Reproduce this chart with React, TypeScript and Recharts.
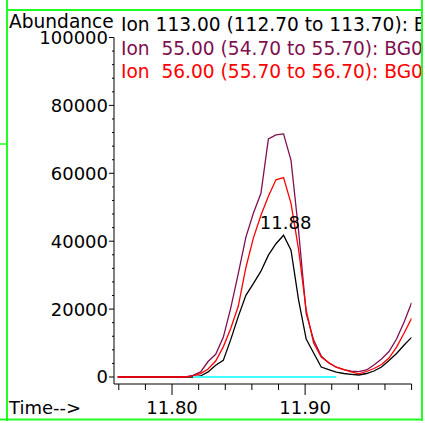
import React from 'react';
import { ComposedChart, Line, XAxis, YAxis, LabelList } from 'recharts';

const times = [
  11.7592, 11.7649, 11.7705, 11.7762, 11.7818, 11.7875, 11.7932, 11.7988, 11.8045, 11.8102,
  11.8158, 11.8215, 11.8271, 11.8328, 11.8385, 11.8441, 11.8498, 11.8555, 11.8611, 11.8668,
  11.8724, 11.8781, 11.8838, 11.8894, 11.8951, 11.9008, 11.9064, 11.9121, 11.9177, 11.9234,
  11.9291, 11.9347, 11.9404, 11.9461, 11.9517, 11.9574, 11.9630, 11.9687, 11.9744, 11.9800,
];

const ion113 = [
  0, 0, 0, 0, 0, 0, 0, 0, 0, 0,
  0, 300, 1500, 3440, 4900, 11000, 17850, 24060, 27500, 31170,
  35880, 39260, 41760, 37350, 22650, 11180, 7060, 2940, 2180, 1410,
  1030, 800, 590, 1030, 1760, 2940, 4850, 6910, 9410, 11680,
];

const ion55 = [
  0, 0, 0, 0, 0, 0, 0, 0, 0, 0,
  500, 1500, 4560, 6680, 11680, 20290, 30500, 41200, 48230, 54100,
  70140, 71320, 71610, 63820, 43000, 18730, 10880, 6180, 4120, 2880,
  2200, 1760, 1560, 2060, 3530, 5290, 7500, 11180, 16180, 21850,
];

const ion56 = [
  0, 0, 0, 0, 0, 0, 0, 0, 0, 0,
  300, 1000, 2350, 4700, 8880, 14300, 20900, 32260, 40900, 47640,
  53230, 58080, 58730, 51170, 37500, 19700, 10000, 5880, 4260, 2880,
  2200, 1530, 940, 1620, 2500, 3680, 5590, 8820, 12940, 17260,
];

const baseline = [
  null, null, null, null, null, null, null, null, null, null,
  0, 0, 0, 0, 0, 0, 0, 0, 0, 0,
  0, 0, 0, 0, 0, 0, 0, 0, 0, 0,
  null, null, null, null, null, null, null, null, null, null,
];

const xTicks = [11.76, 11.78, 11.8, 11.82, 11.84, 11.86, 11.88, 11.9, 11.92, 11.94, 11.96, 11.98];
const xLabels = [11.8, 11.9];
const yTicks = [
  0, 4000, 8000, 12000, 16000, 20000, 24000, 28000, 32000, 36000, 40000, 44000, 48000, 52000,
  56000, 60000, 64000, 68000, 72000, 76000, 80000, 84000, 88000, 92000, 96000, 100000,
];
const yLabels = [0, 20000, 40000, 60000, 80000, 100000];

const legendLines = [
  { text: 'Ion 113.00 (112.70 to 113.70): BG0', color: '#000000' },
  { text: 'Ion  55.00 (54.70 to 55.70): BG0', color: '#7f1050' },
  { text: 'Ion  56.00 (55.70 to 56.70): BG0', color: '#ff0000' },
];

const FONT = '"DejaVu Sans", sans-serif';
const GREEN = '#22ff22';

const data = times.map((t, i) => ({
  t,
  ion113: ion113[i],
  ion55: ion55[i],
  ion56: ion56[i],
  base: baseline[i],
}));

const apexIndex = ion113.indexOf(Math.max(...ion113));

const isIn = (arr: number[], v: number) => arr.some((a) => Math.abs(a - v) < 1e-6);

const XTick = (props: any) => {
  const { x, y, payload } = props;
  const major = isIn(xLabels, payload.value);
  return (
    <g>
      <line x1={x} x2={x} y1={y} y2={y + (major ? 11 : 6)} stroke="#000" strokeWidth={1} />
      {major && (
        <text x={x} y={y + 30} textAnchor="middle" fontFamily={FONT} fontSize={18} fill="#000">
          {Number(payload.value).toFixed(2)}
        </text>
      )}
    </g>
  );
};

const YTick = (props: any) => {
  const { x, y, payload } = props;
  const major = isIn(yLabels, payload.value);
  return (
    <g>
      <line x1={x - (major ? 5 : 2)} x2={x} y1={y} y2={y} stroke="#000" strokeWidth={1} />
      {major && (
        <text x={x - 6} y={y + 6.5} textAnchor="end" fontFamily={FONT} fontSize={18} fill="#000">
          {String(payload.value)}
        </text>
      )}
    </g>
  );
};

const ApexLabel = (props: any) => {
  const { x, y, index } = props;
  if (index !== apexIndex) return null;
  return (
    <text x={x + 2} y={y - 6} textAnchor="middle" fontFamily={FONT} fontSize={18} fill="#000">
      {times[apexIndex].toFixed(2)}
    </text>
  );
};

export default function App() {
  return (
    <div style={{ position: 'absolute', left: 0, top: 0, width: 425, height: 423, background: '#fff' }}>
      <ComposedChart
        width={425}
        height={423}
        data={data}
        margin={{ top: 37.5, right: 13.4, bottom: 9, left: 54 }}
      >
        <XAxis
          dataKey="t"
          type="number"
          domain={[11.7564, 11.98]}
          allowDataOverflow
          ticks={xTicks}
          interval={0}
          height={30}
          tickSize={0}
          tickMargin={0}
          tickLine={false}
          tick={<XTick />}
          axisLine={{ stroke: '#000', strokeWidth: 1 }}
        />
        <YAxis
          type="number"
          domain={[-2062, 100000]}
          allowDataOverflow
          ticks={yTicks}
          interval={0}
          width={60}
          tickSize={0}
          tickMargin={0}
          tickLine={false}
          tick={<YTick />}
          axisLine={{ stroke: '#000', strokeWidth: 1 }}
        />
        <Line dataKey="ion113" stroke="#000000" strokeWidth={1.3} dot={false} isAnimationActive={false} type="linear">
          <LabelList dataKey="ion113" content={<ApexLabel />} />
        </Line>
        <Line dataKey="ion55" stroke="#7f1050" strokeWidth={1.3} dot={false} isAnimationActive={false} type="linear" />
        <Line dataKey="ion56" stroke="#ff0000" strokeWidth={1.3} dot={false} isAnimationActive={false} type="linear" />
        <Line dataKey="base" stroke="#40ffff" strokeWidth={2} dot={false} isAnimationActive={false} type="linear" connectNulls={false} />
      </ComposedChart>
      <svg
        width={421}
        height={423}
        style={{ position: 'absolute', left: 0, top: 0, pointerEvents: 'none' }}
      >
        <text x={9} y={27.5} fontFamily={FONT} fontSize={18.6} fill="#000">Abundance</text>
        {legendLines.map((l, i) => (
          <text
            key={i}
            x={121}
            y={30.7 + i * 23.8}
            fontFamily={FONT}
            fontSize={18.6}
            fill={l.color}
            style={{ whiteSpace: 'pre' }}
          >
            {l.text}
          </text>
        ))}
        <text x={9} y={414} fontFamily={FONT} fontSize={18} fill="#000">Time--&gt;</text>
      </svg>
      <svg width={425} height={423} style={{ position: 'absolute', left: 0, top: 0, pointerEvents: 'none' }}>
        <line x1={7} x2={7} y1={0} y2={421} stroke={GREEN} strokeWidth={2} />
        <line x1={422} x2={422} y1={0} y2={421} stroke={GREEN} strokeWidth={2} />
        <line x1={6} x2={423} y1={10} y2={10} stroke={GREEN} strokeWidth={2} />
        <line x1={0} x2={423} y1={419.5} y2={419.5} stroke={GREEN} strokeWidth={2} />
        <line x1={0} x2={7} y1={144} y2={144} stroke={GREEN} strokeWidth={1.5} />
      </svg>
    </div>
  );
}
